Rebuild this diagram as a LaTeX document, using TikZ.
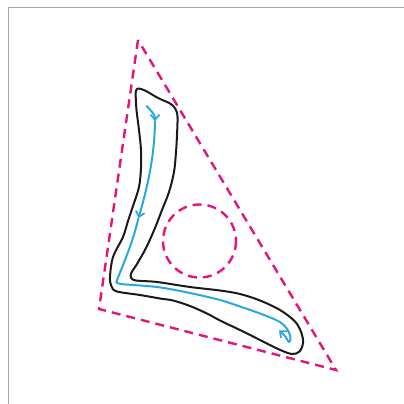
\documentclass[tikz,border=0pt]{standalone}
\usetikzlibrary{arrows.meta}
\definecolor{pinkline}{HTML}{E4147E}
\definecolor{blueline}{HTML}{2AA6E0}
\definecolor{outline}{HTML}{1A1A1A}
\definecolor{framegray}{HTML}{A6A6A6}
\tikzset{
  guide/.style={draw=pinkline, line width=2.4pt, dash pattern=on 9pt off 6pt},
  bone/.style={draw=outline, line width=2pt, line join=round},
  flow/.style={draw=blueline, line width=2pt, line cap=round, line join=round},
  barb/.style={-{Straight Barb[length=5pt,width=9pt,line width=1.8pt]}},
}
\begin{document}
\begin{tikzpicture}[x=1pt,y=-1pt]
\useasboundingbox (0,0) rectangle (404,404);
% frame
\draw[framegray, line width=1.6pt] (8.5,404) -- (8.5,7.5) -- (404,7.5);
% triangle and circle
\coordinate (T) at (138,40);
\coordinate (BL) at (99,309);
\coordinate (BR) at (336,370);
\draw[guide] (T) -- (BL) -- (BR) -- cycle;
\coordinate (C) at (199.5,241);
\draw[guide] (C) circle[radius=36.5];
% black outline
\draw[bone] plot[smooth cycle, tension=0.55] coordinates {
 (138,88.5) (145,90.5) (158,98) (170,103.5) (175.5,109) (177.5,117) (177,135)
 (176,152) (174,172) (169,192) (162,210) (155,228) (146,248) (137,264)
 (131.5,272.5) (131,277.5) (136,280.5) (157,282) (190,287) (220,290.5)
 (240,294) (260,300.5) (280,310) (295,321.5) (301.5,333) (303,343)
 (299.5,351.5) (291.5,354) (277,348.5) (260,340) (240,330) (220,320.5)
 (207,313.5) (190,306) (173,300.5) (160,298.5) (140,295) (117,291.5)
 (111.5,286.5) (110,277) (113,257) (123,237) (128,221) (133,206) (139,187)
 (141,168) (141,150) (139,130) (136.5,110) (135.7,96) (136,91)};
% blue flow
\coordinate (f0) at (146.7,106);
\coordinate (f1) at (155,121);
\coordinate (f2) at (138.5,218);
\coordinate (f3) at (116.5,281.5);
\draw[flow, barb] (f0) .. controls (151,111) and (155,114) .. (f1);
\draw[flow, barb] (f1) .. controls (154.5,160) and (146,192) .. (f2);
\draw[flow] (f2) .. controls (132,245) and (124,262) .. (f3);
\draw[flow, barb] plot[smooth, tension=0.55] coordinates {
 (f3) (121,284) (157,287) (190,293) (220,300) (240,306.5) (260,313.5)
 (279,321.5) (287.5,329.5) (290.5,338) (289,342) (285,336) (279,330.5)};
\end{tikzpicture}
\end{document}
